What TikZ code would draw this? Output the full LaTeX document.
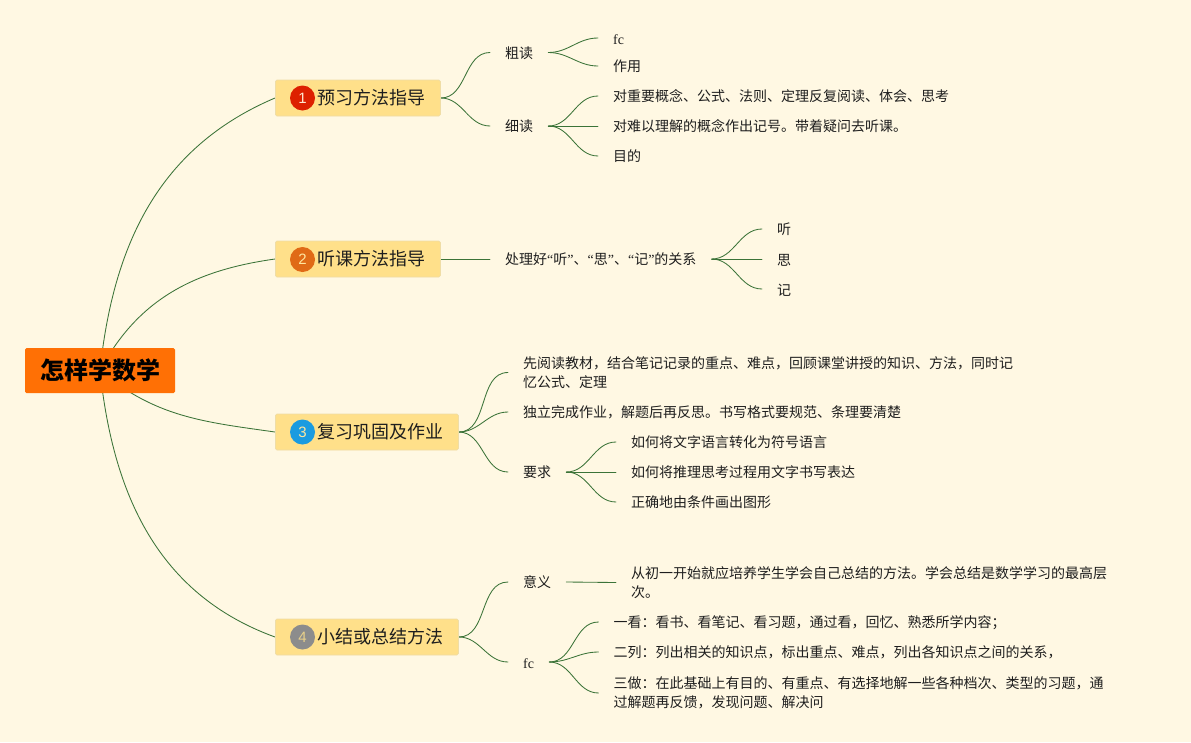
\documentclass[tikz,border=0pt]{standalone}
\usepackage{fontspec}
\setmainfont{Noto Sans CJK SC}
\newfontfamily\latf{Liberation Serif}
\newfontfamily\numf{Liberation Sans}
\usetikzlibrary{backgrounds}
\definecolor{pagebg}{HTML}{FFF8E3}
\definecolor{linkc}{HTML}{3B7338}
\definecolor{boxfill}{HTML}{FFE08A}
\definecolor{boxline}{HTML}{EFDDA6}
\definecolor{rootfill}{HTML}{FF7005}
\definecolor{txt}{HTML}{1E1E1E}
\definecolor{dotred}{HTML}{DD2000}
\definecolor{dotorange}{HTML}{E06A16}
\definecolor{dotblue}{HTML}{1A9BE0}
\definecolor{dotgrey}{HTML}{8C8C8C}
\definecolor{numpale}{HTML}{FFE6D0}
\definecolor{numyellow}{HTML}{FFE6A0}
\definecolor{numdull}{HTML}{E8D08A}
\newcommand{\qo}{{\latf “}}
\newcommand{\qc}{{\latf ”}}
\tikzset{
  rootbox/.style={anchor=center,fill=rootfill,rounded corners=1.5pt,minimum width=150pt,minimum height=45pt,inner sep=0pt,text=black,font=\fontsize{24}{28}\selectfont\bfseries},
  branchbox/.style={anchor=west,fill=boxfill,draw=boxline,line width=0.8pt,rounded corners=1.5pt,minimum height=36pt,inner xsep=0pt,inner ysep=0pt,text=txt,font=\fontsize{18}{22}\selectfont},
  numdot/.style={circle,minimum size=25pt,inner sep=0pt,text=#1,font=\numf\fontsize{15}{18}\selectfont},
  leaf/.style={anchor=west,inner xsep=15pt,inner ysep=0pt,align=left,text=txt,font=\fontsize{14}{19.5}\selectfont,
    execute at begin node={\leavevmode\rule{0pt}{13pt}},execute at end node={\rule[-0.4pt]{0pt}{0.4pt}}},
  link/.style={draw=linkc,line width=0.85pt,line cap=round},
  sc/.style={out=0,in=180}
}
\begin{document}
\begin{tikzpicture}[x=1pt,y=-1pt]
\useasboundingbox (0,0) rectangle (1191,742);
\begin{pgfonlayer}{background}
\fill[pagebg] (0,0) rectangle (1191,742);
\end{pgfonlayer}

\node[rootbox] (root) at (100,370.5) {怎样学数学};

\node[branchbox] (b1) at (275,98) {\hspace*{42pt}预习方法指导\hspace*{15pt}};
\node[branchbox] (b2) at (275,259) {\hspace*{42pt}听课方法指导\hspace*{15pt}};
\node[branchbox] (b3) at (275,432) {\hspace*{42pt}复习巩固及作业\hspace*{15pt}};
\node[branchbox] (b4) at (275,637) {\hspace*{42pt}小结或总结方法\hspace*{15pt}};
\node[numdot=numpale,fill=dotred] (n1) at (302.5,98) {1};
\node[numdot=numyellow,fill=dotorange] (n2) at (302.5,259.5) {2};
\node[numdot=numyellow,fill=dotblue] (n3) at (302.5,432) {3};
\node[numdot=numdull,fill=dotgrey] (n4) at (302.5,637) {4};

% branch 1
\node[leaf] (a1) at (490,52.5) {粗读};
\node[leaf] (a2) at (490,126) {细读};
\node[leaf] (a11) at (598,38) {\latf fc};
\node[leaf] (a12) at (598,66) {作用};
\node[leaf] (a21) at (598,96) {对重要概念、公式、法则、定理反复阅读、体会、思考};
\node[leaf] (a22) at (598,126) {对难以理解的概念作出记号。带着疑问去听课。};
\node[leaf] (a23) at (598,156) {目的};
% branch 2
\node[leaf] (c1) at (490,259) {处理好\qo 听\qc 、\qo 思\qc 、\qo 记\qc 的关系};
\node[leaf] (c11) at (762,229) {听};
\node[leaf] (c12) at (762,259) {思};
\node[leaf] (c13) at (762,289) {记};
% branch 3
\node[leaf] (d1) at (508,372.5) {先阅读教材，结合笔记记录的重点、难点，回顾课堂讲授的知识、方法，同时记\\忆公式、定理};
\node[leaf] (d2) at (508,412) {独立完成作业，解题后再反思。书写格式要规范、条理要清楚};
\node[leaf] (d3) at (508,472) {要求};
\node[leaf] (d31) at (616,442) {如何将文字语言转化为符号语言};
\node[leaf] (d32) at (616,472) {如何将推理思考过程用文字书写表达};
\node[leaf] (d33) at (616,502) {正确地由条件画出图形};
% branch 4
\node[leaf] (e1) at (508,582) {意义};
\node[leaf] (e11) at (616,582.5) {从初一开始就应培养学生学会自己总结的方法。学会总结是数学学习的最高层\\次。};
\node[leaf] (e2) at (508,662) {\latf fc};
\node[leaf] (e21) at (598.5,622) {一看：看书、看笔记、看习题，通过看，回忆、熟悉所学内容；};
\node[leaf] (e22) at (598.5,652) {二列：列出相关的知识点，标出重点、难点，列出各知识点之间的关系，};
\node[leaf] (e23) at (598.5,693) {三做：在此基础上有目的、有重点、有选择地解一些各种档次、类型的习题，通\\过解题再反馈，发现问题、解决问};

\begin{pgfonlayer}{background}
\draw[link] (root.center) to[out=84,in=203] (b1.west);
\draw[link] (root.center) to[out=62,in=188] (b2.west);
\draw[link] (root.center) to[out=-40,in=172] (b3.west);
\draw[link] (root.center) to[out=-84,in=160] (b4.west);
\draw[link] (b1.east) to[sc] (a1.west);
\draw[link] (b1.east) to[sc] (a2.west);
\draw[link] (a1.east) to[sc] (a11.west);
\draw[link] (a1.east) to[sc] (a12.west);
\draw[link] (a2.east) to[sc] (a21.west);
\draw[link] (a2.east) -- (a22.west);
\draw[link] (a2.east) to[sc] (a23.west);
\draw[link] (b2.east) -- (c1.west);
\draw[link] (c1.east) to[sc] (c11.west);
\draw[link] (c1.east) -- (c12.west);
\draw[link] (c1.east) to[sc] (c13.west);
\draw[link] (b3.east) to[sc] (d1.west);
\draw[link] (b3.east) to[sc] (d2.west);
\draw[link] (b3.east) to[sc] (d3.west);
\draw[link] (d3.east) to[sc] (d31.west);
\draw[link] (d3.east) -- (d32.west);
\draw[link] (d3.east) to[sc] (d33.west);
\draw[link] (b4.east) to[sc] (e1.west);
\draw[link] (b4.east) to[sc] (e2.west);
\draw[link] (e1.east) -- (e11.west);
\draw[link] (e2.east) to[sc] (e21.west);
\draw[link] (e2.east) to[sc] (e22.west);
\draw[link] (e2.east) to[sc] (e23.west);
\end{pgfonlayer}
\end{tikzpicture}
\end{document}
